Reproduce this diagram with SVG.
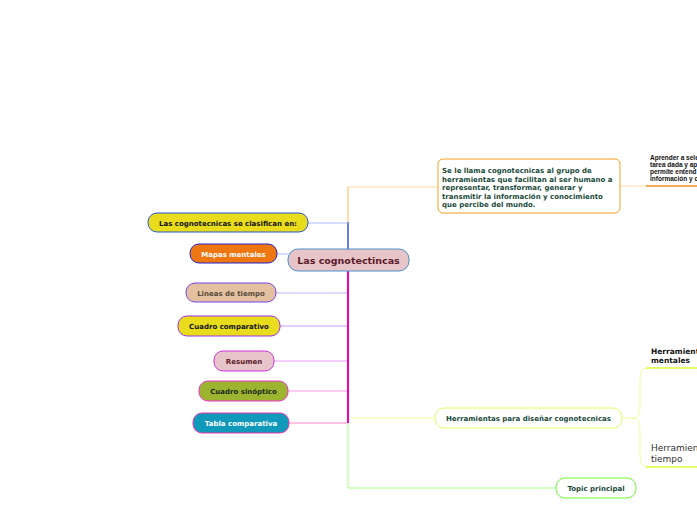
<svg xmlns="http://www.w3.org/2000/svg" width="697" height="520" viewBox="0 0 697 520">
<style>
text{font-family:"DejaVu Sans","Liberation Sans",sans-serif;font-weight:bold}
.n{font-size:7px;text-anchor:middle}
.c{fill:none}
</style>
<rect width="697" height="520" fill="#ffffff"/>
<g id="connectors" class="c">
<path d="M348,187 H438" stroke="#ffdca8" stroke-width="1"/>
<path d="M348,187 V222" stroke="#ffbb55" stroke-width="1"/>
<path d="M348,222 V249" stroke="#3355cc" stroke-width="1.5"/>
<path d="M308,223 H348" stroke="#aabbff" stroke-width="1"/>
<path d="M277,254 H288" stroke="#aabbff" stroke-width="1"/>
<path d="M276,293 H348" stroke="#c0b4ff" stroke-width="1"/>
<path d="M280,326 H348" stroke="#cc99ff" stroke-width="1"/>
<path d="M274,361 H348" stroke="#ee99ff" stroke-width="1"/>
<path d="M288,391 H348" stroke="#ff99ee" stroke-width="1"/>
<path d="M289,423 H348" stroke="#ff88cc" stroke-width="1"/>
<path d="M348,418 H435" stroke="#f4ffbb" stroke-width="1.5"/>
<path d="M348,418 V488 H556" stroke="#aaff88" stroke-width="1"/>
<path d="M348,271 V423" stroke="#ee00bb" stroke-width="2"/>
<path d="M620,186 H646" stroke="#ffdca8" stroke-width="1"/>
<path d="M646,186 H697" stroke="#f09020" stroke-width="1.5"/>
<path d="M622,418 H633 C639,418 640,412 640,404 V382 C640,372 642,368 648,368 H697" stroke="#eeff99" stroke-width="1"/>
<path d="M633,418 C639,418 640,424 640,432 V453 C640,463 642,467 648,467 H697" stroke="#eeff99" stroke-width="1"/>
<path d="M646,368 H697" stroke="#ddff44" stroke-width="1.5"/>
<path d="M646,467 H697" stroke="#ddff44" stroke-width="1.5"/>
</g>
<g id="central">
<rect x="288" y="249" width="121" height="22" rx="10" fill="#e6c4c8" stroke="#4a90c8" stroke-width="1"/>
<text x="348.5" y="263.5" font-size="9.5" text-anchor="middle" fill="#5a1a2a">Las cognotectincas</text>
</g>
<g id="n-clasifican">
<rect x="148" y="213" width="160" height="19" rx="9" fill="#e8dc1c" stroke="#2255dd"/>
<text class="n" x="228" y="225.5" fill="#111">Las cognotecnicas se clasifican en:</text>
</g>
<g id="n-mapas">
<rect x="190" y="244" width="87" height="19" rx="9" fill="#ee7711" stroke="#2222cc"/>
<text class="n" x="233.5" y="256.5" fill="#ffffff">Mapas mentales</text>
</g>
<g id="n-lineas">
<rect x="186" y="283" width="90" height="19" rx="9" fill="#e2c0a0" stroke="#7744ee"/>
<text class="n" x="231" y="295.5" fill="#5a4a3a">Lineas de tiempo</text>
</g>
<g id="n-cuadro-comp">
<rect x="178" y="316" width="102" height="20" rx="9" fill="#e8dc1c" stroke="#9933ee"/>
<text class="n" x="229" y="328.5" fill="#111">Cuadro comparativo</text>
</g>
<g id="n-resumen">
<rect x="214" y="351" width="60" height="20" rx="9" fill="#e6c4c8" stroke="#cc33dd"/>
<text class="n" x="244" y="363.5" fill="#5a1a2a">Resumen</text>
</g>
<g id="n-sinoptico">
<rect x="199" y="381" width="89" height="20" rx="9" fill="#9db430" stroke="#ee33cc"/>
<text class="n" x="243.5" y="393.5" fill="#1a2a1a">Cuadro sinóptico</text>
</g>
<g id="n-tabla">
<rect x="193" y="413" width="96" height="20" rx="9" fill="#1199bb" stroke="#ee33aa"/>
<text class="n" x="241" y="425.5" fill="#ffffff">Tabla comparativa</text>
</g>
<g id="n-definicion">
<rect x="438" y="159" width="182" height="54" rx="5" fill="#ffffff" stroke="#f5a020"/>
<text x="442" y="173" font-size="7" fill="#1a4a3a">
<tspan x="442" y="173">Se le llama cognotecnicas al grupo de</tspan>
<tspan x="442" y="181.5">herramientas que facilitan al ser humano a</tspan>
<tspan x="442" y="190">representar, transformar, generar y</tspan>
<tspan x="442" y="198.5">transmitir la información y conocimiento</tspan>
<tspan x="442" y="207">que percibe del mundo.</tspan>
</text>
</g>
<g id="n-aprender">
<text font-size="6.5" fill="#111" style="font-family:'Liberation Sans',Arial,sans-serif">
<tspan x="650" y="160">Aprender a sele</tspan>
<tspan x="650" y="167">tarea dada y ap</tspan>
<tspan x="650" y="174">permite entend</tspan>
<tspan x="650" y="181">información y c</tspan>
</text>
</g>
<g id="n-herr-mapas">
<text font-size="7.5" fill="#111">
<tspan x="651" y="354">Herramientas de mapas</tspan>
<tspan x="651" y="363">mentales</tspan>
</text>
</g>
<g id="n-herr-tiempo">
<text font-size="9" fill="#333" style="font-weight:normal">
<tspan x="651" y="451">Herramientas de líneas de</tspan>
<tspan x="651" y="462">tiempo</tspan>
</text>
</g>
<g id="n-herramientas">
<rect x="435" y="408" width="187" height="20" rx="9" fill="#ffffff" stroke="#ddff66"/>
<text class="n" x="528.5" y="420.5" fill="#1a4a3a">Herramientas para diseñar cognotecnicas</text>
</g>
<g id="n-topic">
<rect x="556" y="478" width="80" height="20" rx="9" fill="#ffffff" stroke="#66ff33"/>
<text class="n" x="596" y="490.5" fill="#1a4a3a">Topic principal</text>
</g>
</svg>
